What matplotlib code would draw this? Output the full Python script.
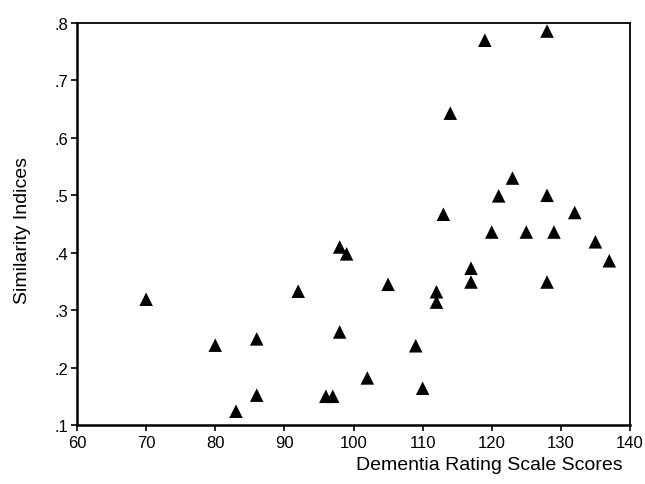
import matplotlib
matplotlib.use("Agg")
import matplotlib.pyplot as plt

plt.rcParams['font.family'] = ['Liberation Sans', 'DejaVu Sans']

drs_scores = [70, 80, 86, 83, 86, 92, 96, 97, 98, 99, 98, 102, 105, 109, 110,
              112, 112, 113, 114, 117, 117, 119, 120, 121, 123, 125, 128, 128,
              128, 129, 132, 135, 137]
similarity = [0.319, 0.239, 0.250, 0.124, 0.152, 0.333, 0.150, 0.150, 0.410,
              0.398, 0.262, 0.182, 0.345, 0.238, 0.164, 0.332, 0.314, 0.467,
              0.643, 0.373, 0.349, 0.770, 0.436, 0.499, 0.530, 0.436, 0.786,
              0.500, 0.349, 0.436, 0.470, 0.419, 0.386]

x_ticks = [60, 70, 80, 90, 100, 110, 120, 130, 140]
y_ticks = [0.1, 0.2, 0.3, 0.4, 0.5, 0.6, 0.7, 0.8]
y_tick_labels = ['.1', '.2', '.3', '.4', '.5', '.6', '.7', '.8']

fig = plt.figure(figsize=(6.45, 4.85), dpi=100)
ax = fig.add_axes([77/645, 1-426/485, (630-77)/645, (426-24)/485])

ax.scatter(drs_scores, similarity, marker='^', s=95, color='black',
           edgecolors='none', zorder=3, clip_on=False)

ax.set_xlim(60, 140)
ax.set_ylim(0.1, 0.8)
ax.set_xticks(x_ticks)
ax.set_xticklabels([str(v) for v in x_ticks])
ax.set_yticks(y_ticks)
ax.set_yticklabels(y_tick_labels)

for side in ['left', 'bottom']:
    ax.spines[side].set_linewidth(1.8)
for side in ['top', 'right']:
    ax.spines[side].set_linewidth(1.3)
ax.tick_params(axis='both', direction='out', length=4, width=1.2,
               labelsize=12, colors='black')
ax.tick_params(axis='x', pad=3)
ax.tick_params(axis='y', pad=2)

fig.text(23/645, 1-231/485, 'Similarity Indices', fontsize=14,
         rotation=90, ha='center', va='center')
fig.text(623/645, 1-466/485, 'Dementia Rating Scale Scores', fontsize=14,
         ha='right', va='center')

fig.savefig('out.png', dpi=100)
